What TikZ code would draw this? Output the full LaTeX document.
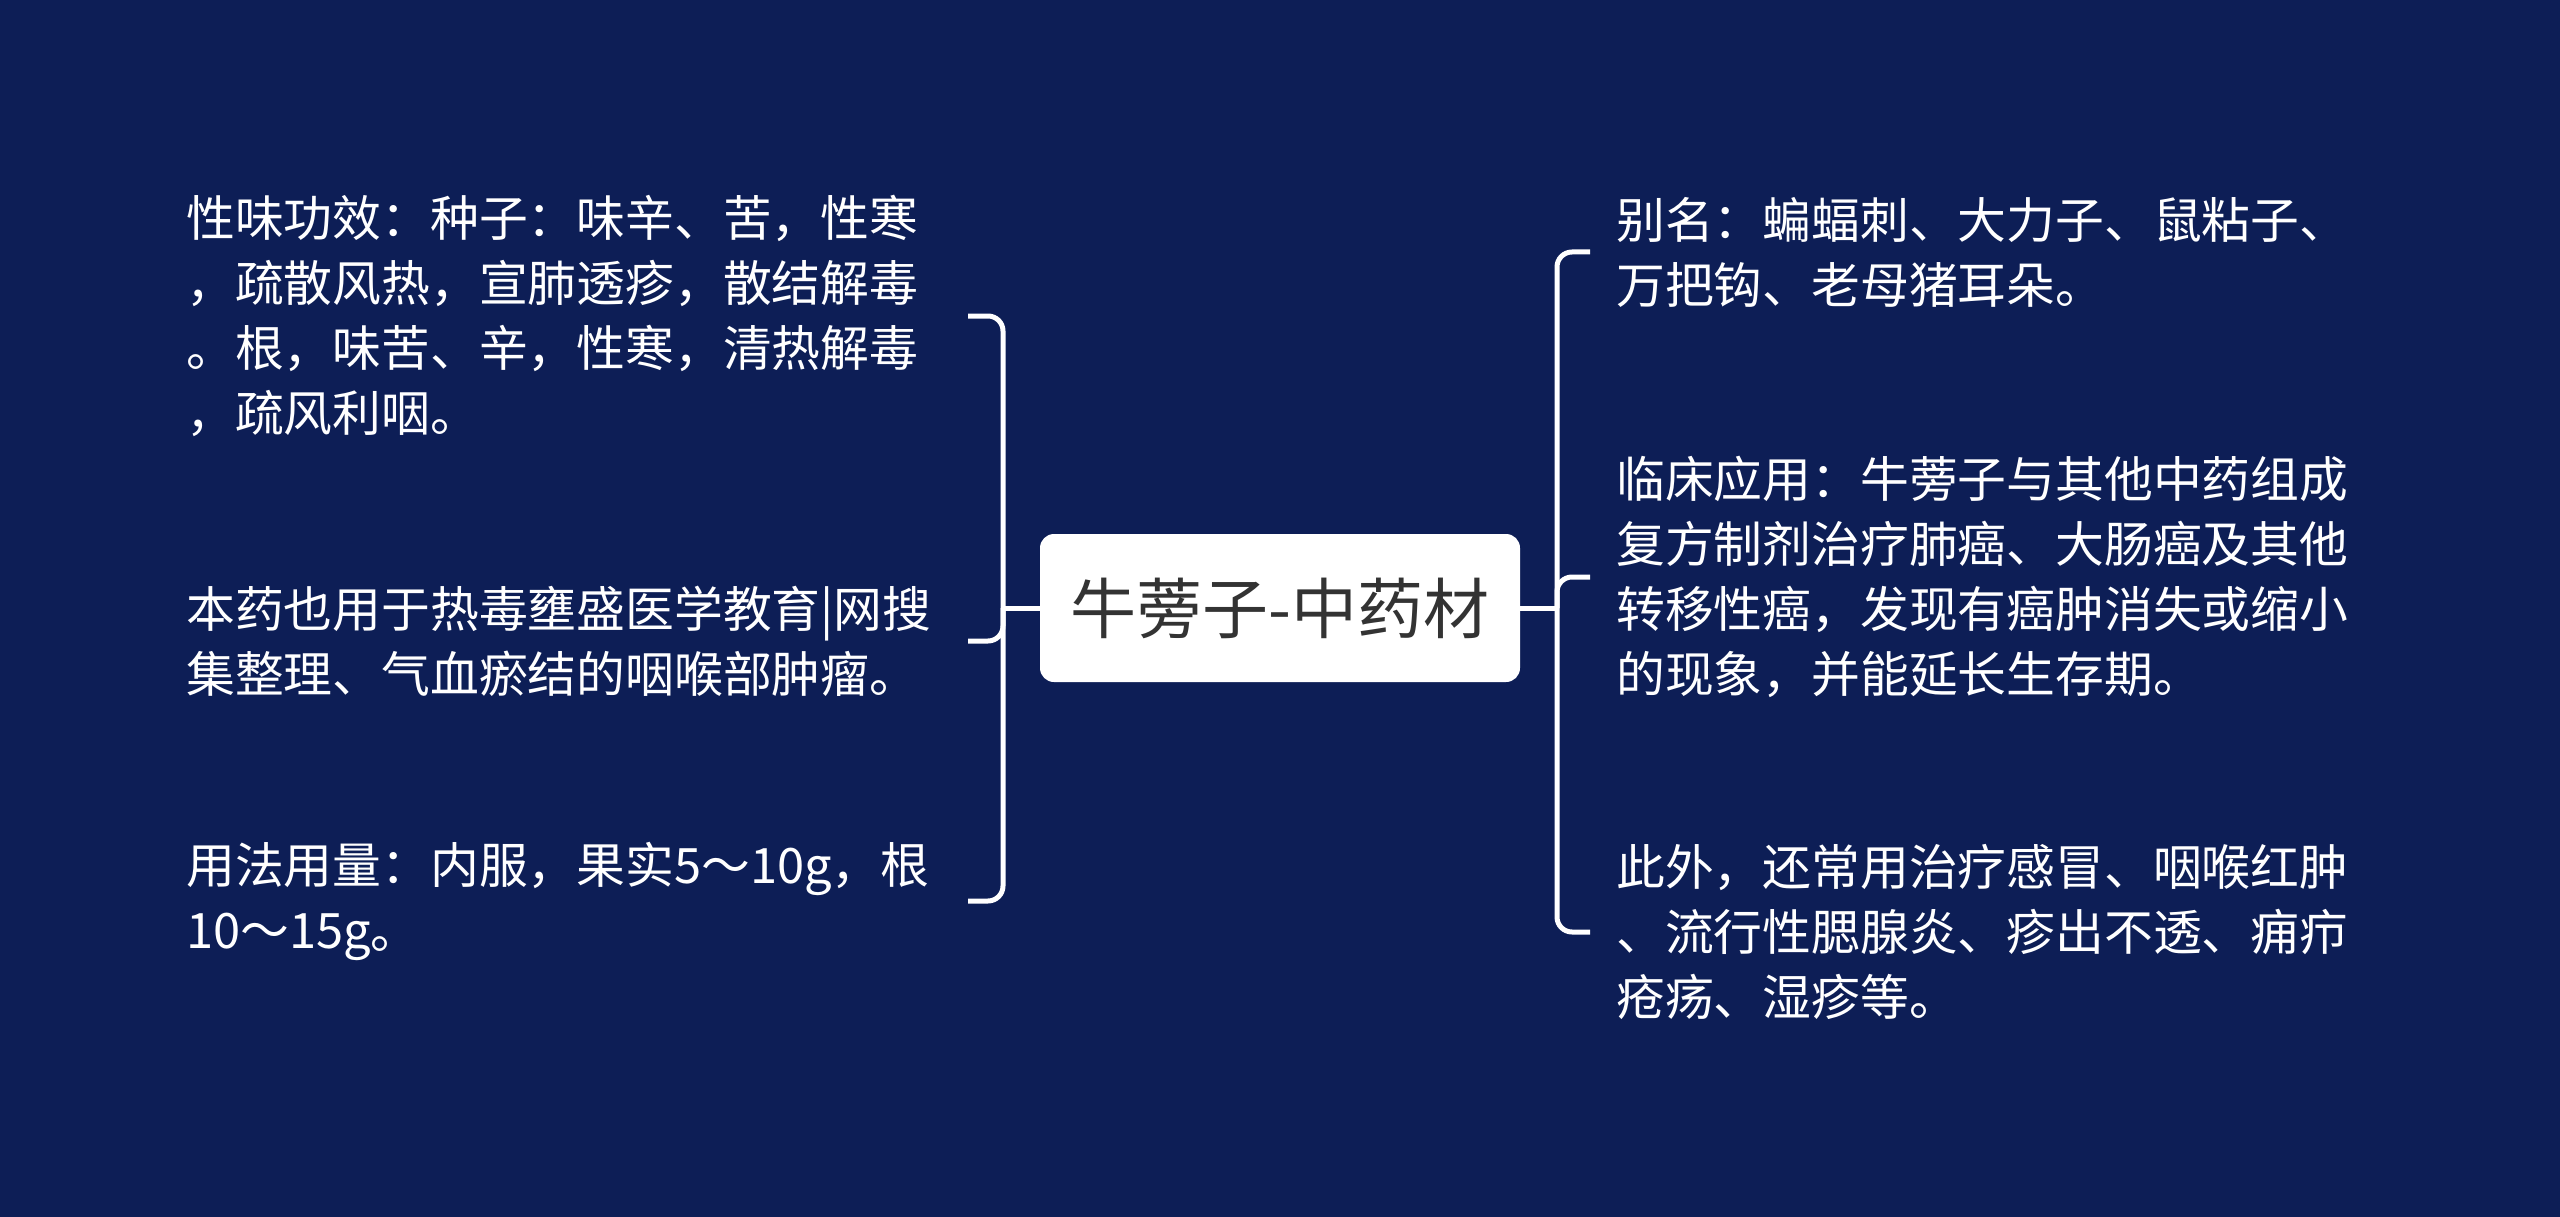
\documentclass[tikz,border=0pt]{standalone}
\usepackage{fontspec}
\setmainfont{Noto Sans CJK SC}
\newfontfamily\cjk{Noto Sans CJK SC}
\definecolor{bgnavy}{RGB}{13,30,86}
\definecolor{centertext}{RGB}{51,51,51}
\tikzset{
  leaf/.style={anchor=west, inner sep=0pt, align=left, text=white,
    font=\cjk\fontsize{48.8}{65}\selectfont},
  rootbox/.style={draw=none, fill=white, rounded corners=14pt, minimum width=480pt,
    minimum height=148pt, inner sep=0pt, text=centertext,
    font=\cjk\fontsize{66}{72}\selectfont},
  link/.style={draw=white, line width=5pt, rounded corners=15pt}
}
\begin{document}
\begin{tikzpicture}[x=1pt,y=-1pt]
\fill[bgnavy] (0,0) rectangle (2560,1217);
\useasboundingbox (0,0) rectangle (2560,1217);

\node[rootbox] (root) at (1280,608) {牛蒡子-中药材};

% left leaves
\node[leaf] (l1) at (186,316) {性味功效：种子：味辛、苦，性寒\\，疏散风热，宣肺透疹，散结解毒\\。根，味苦、辛，性寒，清热解毒\\，疏风利咽。};
\node[leaf] (l2) at (186,641) {本药也用于热毒壅盛医学教育|网搜\\集整理、气血瘀结的咽喉部肿瘤。};
\node[leaf] (l3) at (186,901) {用法用量：内服，果实5～10g，根\\10～15g。};

% right leaves
\node[leaf] (r1) at (1616,252) {别名：蝙蝠刺、大力子、鼠粘子、\\万把钩、老母猪耳朵。};
\node[leaf] (r2) at (1616,577) {临床应用：牛蒡子与其他中药组成\\复方制剂治疗肺癌、大肠癌及其他\\转移性癌，发现有癌肿消失或缩小\\的现象，并能延长生存期。};
\node[leaf] (r3) at (1616,932) {此外，还常用治疗感冒、咽喉红肿\\、流行性腮腺炎、疹出不透、痈疖\\疮疡、湿疹等。};

% junctions and stub ends
\coordinate (lj) at (1003,608);
\coordinate (rj) at (1557,608);
\coordinate (l1e) at (968,316);
\coordinate (l2e) at (968,641);
\coordinate (l3e) at (968,901);
\coordinate (r1e) at (1590,252);
\coordinate (r2e) at (1590,577);
\coordinate (r3e) at (1590,932);

\draw[link] (root.west) -- (lj);
\draw[link] (l1e) -| (lj);
\draw[link] (l2e) -| (lj);
\draw[link] (l3e) -| (lj);

\draw[link] (root.east) -- (rj);
\draw[link] (r1e) -| (rj);
\draw[link] (r2e) -| (rj);
\draw[link] (r3e) -| (rj);
\end{tikzpicture}
\end{document}
